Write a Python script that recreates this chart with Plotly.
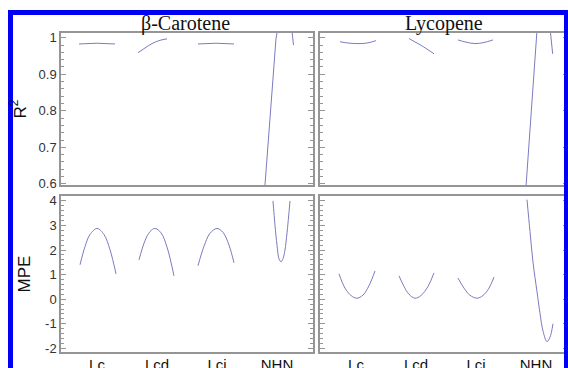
import plotly.graph_objects as go

# ---------------- data ----------------
categories = ["Lc", "Lcd", "Lci", "NHN"]
cat_pos = [1, 2, 3, 4]

# beta-Carotene, R^2 : offsets from category position / values
car_r2_t = [
    [-0.30, -0.15, 0.0, 0.15, 0.30],
    [-0.317, -0.2, -0.083, 0.05, 0.167],
    [-0.317, -0.167, -0.017, 0.133, 0.283],
    [-0.208, -0.108, -0.05, -0.017, 0.017, 0.133, 0.242, 0.275],
]
car_r2_v = [
    [0.983, 0.984, 0.985, 0.984, 0.983],
    [0.959, 0.972, 0.984, 0.993, 0.997],
    [0.983, 0.984, 0.985, 0.984, 0.983],
    [0.58, 0.80, 0.93, 0.997, 1.03, 1.06, 1.03, 0.98],
]

# Lycopene, R^2
lyc_r2_t = [
    [-0.267, -0.1, 0.067, 0.2, 0.333],
    [-0.117, -0.033, 0.067, 0.183, 0.3],
    [-0.3, -0.167, -0.017, 0.133, 0.283],
    [-0.172, -0.083, -0.025, 0.0, 0.025, 0.117, 0.225, 0.278],
]
lyc_r2_v = [
    [0.989, 0.985, 0.984, 0.986, 0.992],
    [0.998, 0.990, 0.981, 0.969, 0.956],
    [0.994, 0.988, 0.984, 0.987, 0.994],
    [0.58, 0.80, 0.94, 0.998, 1.04, 1.07, 1.04, 0.956],
]

# beta-Carotene, MPE
car_mpe_t = [
    [-0.283, -0.2, -0.117, 0.0, 0.117, 0.217, 0.317],
    [-0.3, -0.2, -0.117, -0.033, 0.067, 0.167, 0.283],
    [-0.317, -0.217, -0.117, 0.0, 0.1, 0.2, 0.283],
    [-0.067, -0.033, 0.0, 0.033, 0.067, 0.1, 0.133, 0.167, 0.217],
]
car_mpe_v = [
    [1.40, 2.14, 2.63, 2.88, 2.63, 2.01, 1.03],
    [1.60, 2.38, 2.75, 2.88, 2.70, 2.12, 0.95],
    [1.36, 2.15, 2.68, 2.88, 2.72, 2.20, 1.48],
    [4.0, 3.0, 2.2, 1.65, 1.52, 1.65, 2.0, 2.7, 4.0],
]

# Lycopene, MPE
lyc_mpe_t = [
    [-0.283, -0.183, -0.083, 0.017, 0.117, 0.217, 0.317],
    [-0.283, -0.2, -0.117, -0.017, 0.083, 0.2, 0.3],
    [-0.3, -0.2, -0.1, 0.017, 0.117, 0.217, 0.3],
    [-0.15, -0.1, -0.05, 0.017, 0.067, 0.117, 0.183, 0.233, 0.283],
]
lyc_mpe_v = [
    [1.03, 0.45, 0.15, 0.04, 0.17, 0.55, 1.15],
    [0.95, 0.52, 0.20, 0.04, 0.15, 0.52, 1.07],
    [0.86, 0.45, 0.16, 0.04, 0.15, 0.45, 0.90],
    [4.05, 2.75, 1.50, 0.30, -0.58, -1.30, -1.73, -1.55, -1.00],
]

r2_ticks = [0.6, 0.7, 0.8, 0.9, 1.0]
r2_ticktext = ["0.6", "0.7", "0.8", "0.9", "1"]
mpe_ticks = [-2, -1, 0, 1, 2, 3, 4]
mpe_ticktext = ["-2", "-1", "0", "1", "2", "3", "4"]

panel_titles = ["β-Carotene", "Lycopene"]

# ---------------- figure ----------------
W, H = 568, 368
LINE = "#7b7bc0"
FRAME = "#959595"

fig = go.Figure()

panels = [
    (car_r2_t, car_r2_v, "x", "y"),
    (lyc_r2_t, lyc_r2_v, "x2", "y2"),
    (car_mpe_t, car_mpe_v, "x3", "y3"),
    (lyc_mpe_t, lyc_mpe_v, "x4", "y4"),
]
for p_i, (offs, vals, xa, ya) in enumerate(panels):
    for c_i, (o, v) in enumerate(zip(offs, vals)):
        xs = [cat_pos[c_i] + d for d in o]
        shape = "linear" if (p_i < 2 and c_i == 3) else "spline"
        fig.add_trace(go.Scatter(
            x=xs, y=v, xaxis=xa, yaxis=ya, mode="lines",
            line=dict(color=LINE, width=1.0, shape=shape),
            showlegend=False, hoverinfo="skip"))


def px_x(p):
    return p / W


def px_y(p):
    return 1 - p / H


left_dom = [px_x(61), px_x(313)]
right_dom = [px_x(320), 1.0]
top_dom = [px_y(185), px_y(33)]
bot_dom = [px_y(352), px_y(196)]
left_rng = [0.4, 4.6]
right_rng = [0.4, 0.4 + 248 / 60]

xbase = dict(showline=True, linecolor=FRAME, linewidth=1.5, mirror=True,
             ticks="", showgrid=False, zeroline=False, automargin=False,
             tickvals=cat_pos, ticktext=categories, ticklabelstandoff=-2,
             tickfont=dict(family="Liberation Sans, Arial", size=15, color="#111"))
ybase = dict(showline=True, linecolor=FRAME, linewidth=1.5, mirror="allticks",
             ticks="inside", ticklen=5, tickcolor=FRAME, tickwidth=1,
             showgrid=False, zeroline=False, automargin=False,
             tickfont=dict(family="Liberation Sans, Arial", size=13, color="#333"))

NB = "\u00a0"
fig.update_layout(
    width=W, height=H,
    margin=dict(l=0, r=0, t=0, b=0, autoexpand=False),
    paper_bgcolor="white", plot_bgcolor="white",
    xaxis=dict(xbase, domain=left_dom, range=left_rng, anchor="y", showticklabels=False),
    xaxis2=dict(xbase, domain=right_dom, range=right_rng, anchor="y2", showticklabels=False),
    xaxis3=dict(xbase, domain=left_dom, range=left_rng, anchor="y3"),
    xaxis4=dict(xbase, domain=right_dom, range=right_rng, anchor="y4"),
    yaxis=dict(ybase, domain=top_dom, range=[0.597, 1.013], anchor="x",
               tickvals=r2_ticks, ticktext=r2_ticktext,
               minor=dict(dtick=0.02, tick0=0.6, ticks="inside", ticklen=3, tickcolor=FRAME),
               title=dict(text="R<sup>2</sup>" + NB * 2, standoff=8,
                          font=dict(family="Liberation Sans, Arial", size=17, color="#111"))),
    yaxis2=dict(ybase, domain=top_dom, range=[0.597, 1.013], anchor="x2",
                tickvals=r2_ticks, showticklabels=False,
                minor=dict(dtick=0.02, tick0=0.6, ticks="inside", ticklen=3, tickcolor=FRAME)),
    yaxis3=dict(ybase, domain=bot_dom, range=[-2.15, 4.2], anchor="x3",
                tickvals=mpe_ticks, ticktext=mpe_ticktext,
                minor=dict(dtick=0.2, tick0=0, ticks="inside", ticklen=3, tickcolor=FRAME),
                title=dict(text="MPE", standoff=10,
                           font=dict(family="Liberation Sans, Arial", size=17, color="#111"))),
    yaxis4=dict(ybase, domain=bot_dom, range=[-2.15, 4.2], anchor="x4",
                tickvals=mpe_ticks, showticklabels=False,
                minor=dict(dtick=0.2, tick0=0, ticks="inside", ticklen=3, tickcolor=FRAME)),
)

# panel titles
for txt, dom in zip(panel_titles, [left_dom, right_dom]):
    fig.add_annotation(text=txt, xref="paper", yref="paper",
                       x=(dom[0] + dom[1]) / 2 - (0.003 if dom is left_dom else 0.0),
                       y=px_y(23), xanchor="center", yanchor="middle", showarrow=False,
                       font=dict(family="Liberation Serif, Times New Roman", size=20, color="#111"))

# blue frame of the screenshot
BLUE = "#0000f2"
fig.add_shape(type="rect", xref="paper", yref="paper",
              x0=px_x(8), x1=px_x(13), y0=0, y1=px_y(10),
              fillcolor=BLUE, line=dict(width=0), layer="above")
fig.add_shape(type="rect", xref="paper", yref="paper",
              x0=px_x(8), x1=1, y0=px_y(15), y1=px_y(10),
              fillcolor=BLUE, line=dict(width=0), layer="above")
fig.add_shape(type="rect", xref="paper", yref="paper",
              x0=px_x(564), x1=1, y0=0, y1=px_y(10),
              fillcolor=BLUE, line=dict(width=0), layer="above")

page_js = (
    "var s=document.createElement('style');"
    "s.textContent='html,body{margin:0;padding:0;overflow:hidden;height:368px;width:568px;}"
    "body>div{display:block;line-height:0;height:368px;}';"
    "document.head.appendChild(s);"
)
fig.write_html("out.html", config={"displayModeBar": False}, post_script=page_js)
